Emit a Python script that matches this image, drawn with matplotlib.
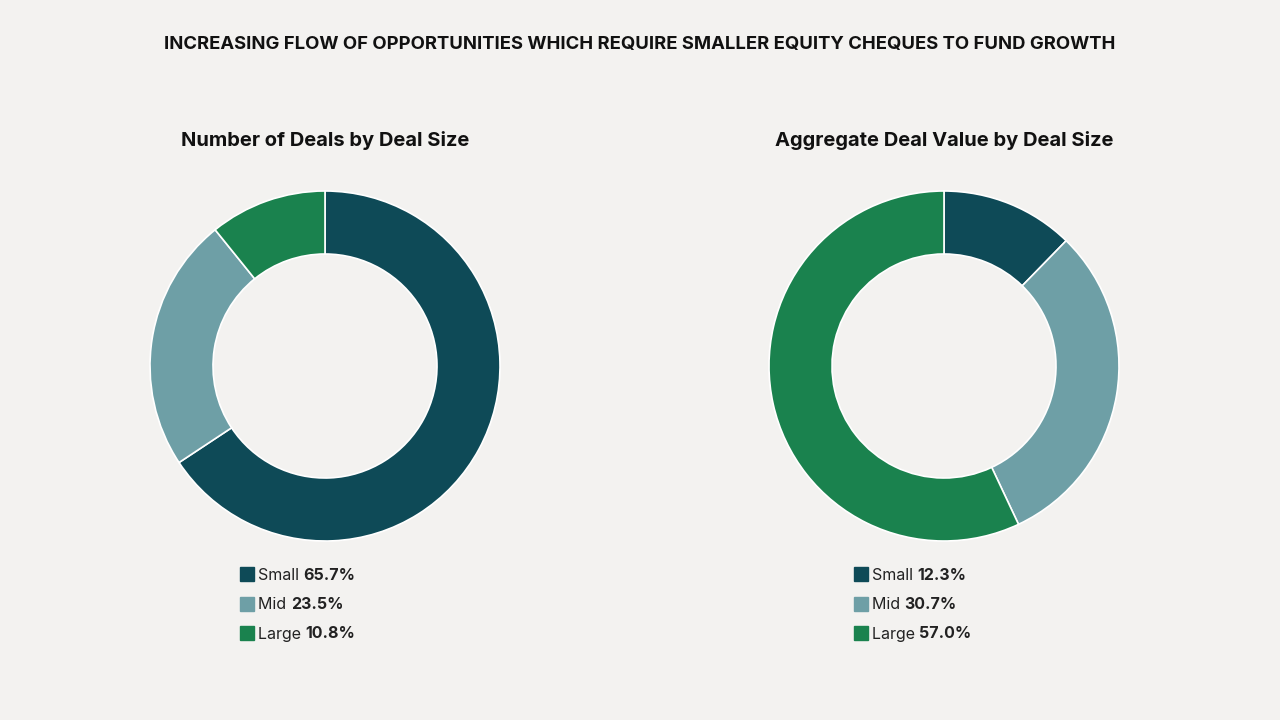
import matplotlib.pyplot as plt

plt.rcParams['font.family'] = ['Inter', 'DejaVu Sans']

title = "INCREASING FLOW OF OPPORTUNITIES WHICH REQUIRE SMALLER EQUITY CHEQUES TO FUND GROWTH"
categories = ["Small", "Mid", "Large"]
colors = ["#0e4a57", "#6e9fa6", "#1a824e"]

deals_title = "Number of Deals by Deal Size"
deals_share = [65.7, 23.5, 10.8]

value_title = "Aggregate Deal Value by Deal Size"
value_share = [12.3, 30.7, 57.0]

bg = "#f3f2f0"
W, H = 1280, 720

fig = plt.figure(figsize=(12.8, 7.2), dpi=100, facecolor=bg)
fig.text(0.5, 1 - 44 / H, title, ha="center", va="center",
         fontsize=13.3, fontweight="bold", color="#111111")


def donut(cx, sub, values, legend_x):
    r = 175
    ax = fig.add_axes([(cx - r) / W, (H - 366 - r) / H, 2 * r / W, 2 * r / H])
    ax.set_facecolor(bg)
    ax.pie(values, colors=colors, startangle=90, counterclock=False,
           radius=1.0, wedgeprops=dict(width=0.36, edgecolor="white", linewidth=1.2))
    ax.set_xlim(-1, 1)
    ax.set_ylim(-1, 1)
    ax.set_aspect("equal")
    ax.axis("off")

    fig.text(cx / W, 1 - 140 / H, sub, ha="center", va="center",
             fontsize=14.5, fontweight="bold", color="#111111")

    for i, (cat, v) in enumerate(zip(categories, values)):
        y = 574 + i * 29.5
        fig.patches.append(plt.Rectangle((legend_x / W, 1 - (y + 7) / H), 14 / W, 14 / H,
                                         transform=fig.transFigure, color=colors[i]))
        t = fig.text((legend_x + 18) / W, 1 - (y + 1) / H, cat + " ", ha="left", va="center",
                     fontsize=11.5, color="#222222")
        # bold value placed right after the category name
        fig.add_artist(plt.Annotation(f"{v:.1f}%", xy=(1, 0.5), xycoords=t,
                                      va="center", ha="left", fontsize=11.5,
                                      fontweight="bold", color="#222222",
                                      annotation_clip=False))


donut(325, deals_title, deals_share, 240)
donut(944, value_title, value_share, 854)

fig.savefig("out.png", dpi=100, facecolor=bg)
